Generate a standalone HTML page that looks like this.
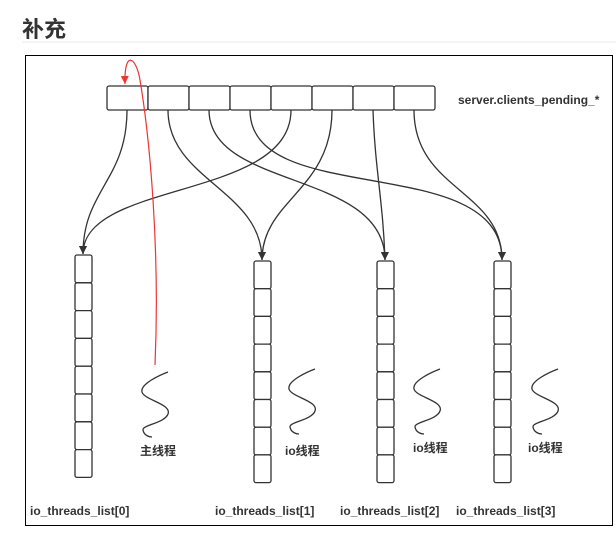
<!DOCTYPE html>
<html><head><meta charset="utf-8"><style>
body{margin:0;background:#fff;width:616px;height:544px;overflow:hidden;font-family:"Liberation Sans","Noto Sans CJK SC",sans-serif}
</style></head><body>
<svg width="616" height="544" xmlns="http://www.w3.org/2000/svg" style="position:absolute;left:0;top:0">
<defs><marker id="a" markerWidth="8" markerHeight="8" refX="4" refY="7" orient="auto" markerUnits="userSpaceOnUse" viewBox="0 0 8 8"><path d="M0,0 L8,0 L4,8z" fill="#333" transform="rotate(-90 4 4)"/></marker>
<marker id="b" markerWidth="8" markerHeight="10" refX="8" refY="4" orient="auto" markerUnits="userSpaceOnUse"><path d="M0,0 L8,4 L0,8z" fill="#333"/></marker>
<marker id="r" markerWidth="8" markerHeight="10" refX="8" refY="4" orient="auto" markerUnits="userSpaceOnUse"><path d="M0,0 L8,4 L0,8z" fill="#e33"/></marker></defs>
<text x="22" y="37" font-size="22" font-weight="bold" fill="#333" font-family="Liberation Sans,Noto Sans CJK SC,sans-serif">补充</text>
<line x1="22" y1="42" x2="616" y2="42" stroke="#e8e8e8" stroke-width="1"/>
<rect x="25.5" y="55.5" width="587" height="470" fill="none" stroke="#000" stroke-width="1"/>
<g fill="#fff" stroke="#333" stroke-width="1.3">
<rect x="107" y="86" width="41" height="24" rx="2"/><rect x="148" y="86" width="41" height="24" rx="2"/><rect x="189" y="86" width="41" height="24" rx="2"/><rect x="230" y="86" width="41" height="24" rx="2"/><rect x="271" y="86" width="41" height="24" rx="2"/><rect x="312" y="86" width="41" height="24" rx="2"/><rect x="353" y="86" width="41" height="24" rx="2"/><rect x="394" y="86" width="41" height="24" rx="2"/>
</g>
<text x="458" y="104" font-size="12" font-weight="bold" fill="#333">server.clients_pending_*</text>
<g fill="none" stroke="#333" stroke-width="1.3" marker-end="url(#b)">
<path d="M127,110 C127,180 83,190 83,254"/>
<path d="M291,110 C291,200 83,180 83,254"/>
<path d="M168,110 C168,180 262,190 262,260"/>
<path d="M332,110 C332,190 262,200 262,260"/>
<path d="M209,110 C209,190 385,170 385,260"/>
<path d="M373,110 C375,170 383,200 385,260"/>
<path d="M250,110 C250,210 502,150 502,260"/>
<path d="M414,110 C414,190 502,190 502,260"/>
</g>
<g fill="#fff" stroke="#333" stroke-width="1.3">
<rect x="75" y="255" width="17" height="27.8" rx="2"/><rect x="75" y="282.8" width="17" height="27.8" rx="2"/><rect x="75" y="310.6" width="17" height="27.8" rx="2"/><rect x="75" y="338.4" width="17" height="27.8" rx="2"/><rect x="75" y="366.2" width="17" height="27.8" rx="2"/><rect x="75" y="394" width="17" height="27.8" rx="2"/><rect x="75" y="421.8" width="17" height="27.8" rx="2"/><rect x="75" y="449.6" width="17" height="27.8" rx="2"/>
</g>
<g id="c1" fill="#fff" stroke="#333" stroke-width="1.3">
<rect x="254" y="261" width="17" height="27.7" rx="2"/><rect x="254" y="288.7" width="17" height="27.7" rx="2"/><rect x="254" y="316.4" width="17" height="27.7" rx="2"/><rect x="254" y="344.1" width="17" height="27.7" rx="2"/><rect x="254" y="371.8" width="17" height="27.7" rx="2"/><rect x="254" y="399.5" width="17" height="27.7" rx="2"/><rect x="254" y="427.2" width="17" height="27.7" rx="2"/><rect x="254" y="454.9" width="17" height="27.7" rx="2"/>
</g>
<use href="#c1" x="123"/>
<use href="#c1" x="240"/>
<path d="M155,365 C160,250 150,140 140,80 C136,56 124,50 125,84" fill="none" stroke="#e33" stroke-width="1.2" marker-end="url(#r)"/>
<g fill="none" stroke="#333" stroke-width="1.3">
<path id="w" d="M168,372 C160,375 140,384 142,392 C144,400 172,404 168,414 C165,423 142,425 143,430 C144,436 150,437 152,437"/>
<use href="#w" x="147" y="-3"/>
<use href="#w" x="272" y="-3"/>
<use href="#w" x="390" y="-3"/>
</g>
<g font-size="12" font-weight="bold" fill="#333">
<text x="140" y="455">主线程</text><text x="285" y="455">io线程</text><text x="413" y="452">io线程</text><text x="528" y="452">io线程</text>
<text x="30" y="515">io_threads_list[0]</text><text x="215" y="515">io_threads_list[1]</text><text x="340" y="515">io_threads_list[2]</text><text x="456" y="515">io_threads_list[3]</text>
</g>
</svg>
</body></html>
